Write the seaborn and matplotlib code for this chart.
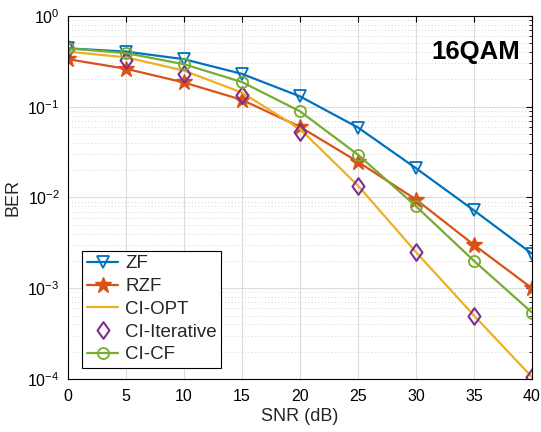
import numpy as np
import pandas as pd
import matplotlib
matplotlib.use("Agg")
import matplotlib.pyplot as plt
import seaborn as sns
from matplotlib.ticker import LogLocator, NullFormatter, MultipleLocator
from matplotlib.path import Path

snr = [0, 5, 10, 15, 20, 25, 30, 35, 40]
ber_zf = [0.44, 0.405, 0.334, 0.23, 0.13, 0.059, 0.021, 0.0072, 0.0024]
ber_rzf = [0.334, 0.262, 0.185, 0.119, 0.060, 0.0247, 0.0095, 0.0030, 0.0010]
ber_ci_opt = [0.405, 0.35, 0.25, 0.143, 0.057, 0.0135, 0.0025, 0.0005, 0.000105]
ber_ci_iter = [0.43, 0.33, 0.23, 0.135, 0.053, 0.0133, 0.0025, 0.0005, 0.000105]
ber_ci_cf = [0.44, 0.39, 0.294, 0.187, 0.089, 0.0296, 0.0080, 0.0020, 0.00054]

labels = ["ZF", "RZF", "CI-OPT", "CI-Iterative", "CI-CF"]
series = [ber_zf, ber_rzf, ber_ci_opt, ber_ci_iter, ber_ci_cf]
colors = ["#0072BD", "#D95319", "#EDB120", "#7E2F8E", "#77AC30"]

sns.set_style("white")
plt.rcParams["font.family"] = ["Liberation Sans", "DejaVu Sans"]
plt.rcParams["mathtext.fontset"] = "custom"
plt.rcParams["mathtext.rm"] = "Liberation Sans"
plt.rcParams["mathtext.it"] = "Liberation Sans:italic"

fig = plt.figure(figsize=(5.41, 4.32), dpi=100)
ax = fig.add_axes([0.1257, 0.1227, 0.8577, 0.8403])

diamond = Path([(0, 1), (0.72, 0), (0, -1), (-0.72, 0), (0, 1)],
               [Path.MOVETO, Path.LINETO, Path.LINETO, Path.LINETO, Path.CLOSEPOLY])

styles = [
    dict(marker="v", markersize=9, markerfacecolor="none", markeredgewidth=1.3, linestyle="-"),
    dict(marker="*", markersize=12, markeredgewidth=1.0, linestyle="-"),
    dict(marker=None, linestyle="-"),
    dict(marker=diamond, markersize=12, markerfacecolor="none", markeredgewidth=1.5, linestyle="none"),
    dict(marker="o", markersize=8, markerfacecolor="none", markeredgewidth=1.3, linestyle="-"),
]

for lab, vals, col, st in zip(labels, series, colors, styles):
    df = pd.DataFrame({"SNR": snr, "BER": vals})
    kw = dict(st)
    if kw.get("marker") is None:
        kw.pop("marker")
    sns.lineplot(data=df, x="SNR", y="BER", ax=ax, color=col, label=lab,
                 linewidth=1.6, markeredgecolor=col, **kw)

ax.set_yscale("log")
ax.set_xlim(0, 40)
ax.set_ylim(1e-4, 1)
ax.xaxis.set_major_locator(MultipleLocator(5))
ax.yaxis.set_major_locator(LogLocator(base=10, numticks=10))
ax.yaxis.set_minor_locator(LogLocator(base=10, subs=np.arange(2, 10), numticks=20))
ax.yaxis.set_minor_formatter(NullFormatter())

ax.grid(True, which="major", color="#dcdcdc", linewidth=0.8, linestyle="-")
ax.grid(True, which="minor", axis="y", color="#c8c8c8", linewidth=0.6, linestyle=(0, (1, 3)))
ax.set_axisbelow(True)

ax.tick_params(which="both", direction="in", top=True, right=True, labelsize=11.5, colors="black")
ax.tick_params(which="major", length=4)
ax.tick_params(which="minor", length=2)
ax.tick_params(axis="x", pad=7)
ax.tick_params(axis="y", pad=6)
for sp in ax.spines.values():
    sp.set_color("black")
    sp.set_linewidth(0.8)

ax.set_xlabel("SNR (dB)", fontsize=13, labelpad=3)
ax.set_ylabel("BER", fontsize=13, labelpad=4)

ax.text(0.975, 0.90, "16QAM", transform=ax.transAxes, ha="right", va="center",
        fontsize=18.5, fontweight="bold", color="black")

leg = ax.legend(loc="lower left", bbox_to_anchor=(0.03, 0.03), fontsize=13.5,
                frameon=True, fancybox=False, edgecolor="black", framealpha=1,
                borderpad=0.25, labelspacing=0.3, handlelength=1.7, handletextpad=0.35,
                borderaxespad=0)
leg.get_frame().set_linewidth(0.8)

fig.savefig("out.png", dpi=100)
